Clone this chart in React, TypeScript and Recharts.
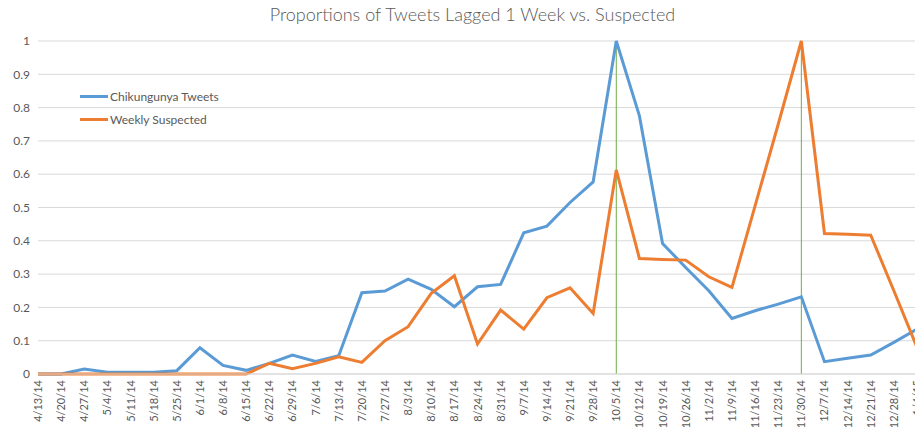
import {
  LineChart,
  Line,
  XAxis,
  YAxis,
  CartesianGrid,
  ReferenceLine,
} from 'recharts';

const categories = [
  '4/13/14', '4/20/14', '4/27/14', '5/4/14', '5/11/14', '5/18/14', '5/25/14',
  '6/1/14', '6/8/14', '6/15/14', '6/22/14', '6/29/14', '7/6/14', '7/13/14',
  '7/20/14', '7/27/14', '8/3/14', '8/10/14', '8/17/14', '8/24/14', '8/31/14',
  '9/7/14', '9/14/14', '9/21/14', '9/28/14', '10/5/14', '10/12/14', '10/19/14',
  '10/26/14', '11/2/14', '11/9/14', '11/16/14', '11/23/14', '11/30/14',
  '12/7/14', '12/14/14', '12/21/14', '12/28/14', '1/4/15',
];

const tweets = [
  0, 0, 0.015, 0.005, 0.005, 0.005, 0.01, 0.079, 0.026, 0.011, 0.032, 0.057,
  0.038, 0.055, 0.244, 0.249, 0.285, 0.254, 0.202, 0.262, 0.269, 0.424, 0.444,
  0.515, 0.577, 1.0, 0.775, 0.392, 0.32, 0.25, 0.167, 0.19, 0.21, 0.232, 0.037,
  0.047, 0.057, 0.095, 0.135,
];

const suspected = [
  0, 0, 0, 0, 0, 0, 0, 0, 0, 0, 0.032, 0.016, 0.032, 0.052, 0.035, 0.1, 0.142,
  0.242, 0.295, 0.09, 0.192, 0.135, 0.229, 0.259, 0.182, 0.613, 0.347, 0.344,
  0.342, 0.292, 0.26, 0.505, 0.75, 1.0, 0.422, 0.42, 0.417, 0.25, 0.08,
];

const yTicks = [0, 0.1, 0.2, 0.3, 0.4, 0.5, 0.6, 0.7, 0.8, 0.9, 1];
const peakWeeks = ['10/5/14', '11/30/14'];

const BLUE = '#5B9BD5';
const ORANGE = '#ED7D31';
const TEXT = '#595959';
const FONT = 'Lato, "Open Sans", sans-serif';

const data = categories.map((week, i) => ({
  week,
  tweets: tweets[i],
  suspected: suspected[i],
}));

const legendItems = [
  { label: 'Chikungunya Tweets', color: BLUE },
  { label: 'Weekly Suspected', color: ORANGE },
];

function XTick({ x, y, payload }: any) {
  return (
    <text
      x={x}
      y={y}
      transform={`rotate(-90, ${x}, ${y})`}
      textAnchor="end"
      dy={4}
      dx={2}
      fill={TEXT}
      fontSize={11}
      fontFamily={FONT}
    >
      {payload.value}
    </text>
  );
}

export default function App() {
  return (
    <div
      style={{
        position: 'absolute',
        left: 0,
        top: 0,
        width: 915,
        height: 427,
        overflow: 'hidden',
        background: '#fff',
      }}
    >
      <div
        style={{
          position: 'absolute',
          left: 0,
          top: 3,
          width: 945,
          textAlign: 'center',
          fontFamily: FONT,
          fontSize: 18,
          color: TEXT,
          fontWeight: 300,
        }}
      >
        Proportions of Tweets Lagged 1 Week vs. Suspected
      </div>
      <LineChart
        width={925}
        height={427}
        data={data}
        margin={{ top: 41, right: 8, bottom: 0, left: 8 }}
      >
        <CartesianGrid vertical={false} stroke="#d9d9d9" />
        <XAxis
          dataKey="week"
          interval={0}
          height={53}
          tickLine={false}
          axisLine={{ stroke: '#d9d9d9' }}
          tick={<XTick />}
        />
        <YAxis
          width={30}
          domain={[0, 1]}
          ticks={yTicks}
          axisLine={false}
          tickLine={false}
          tick={{ fill: TEXT, fontSize: 12, fontFamily: FONT }}
        />
        {peakWeeks.map((w) => (
          <ReferenceLine key={w} x={w} stroke="#70AD47" strokeWidth={1} />
        ))}
        <Line
          dataKey="tweets"
          name="Chikungunya Tweets"
          stroke={BLUE}
          strokeWidth={3}
          dot={false}
          isAnimationActive={false}
        />
        <Line
          dataKey="suspected"
          name="Weekly Suspected"
          stroke={ORANGE}
          strokeWidth={3}
          dot={false}
          isAnimationActive={false}
        />
      </LineChart>
      <div
        style={{
          position: 'absolute',
          left: 80,
          top: 85,
          fontFamily: FONT,
          fontSize: 12,
          color: TEXT,
        }}
      >
        {legendItems.map((it) => (
          <div
            key={it.label}
            style={{ display: 'flex', alignItems: 'center', height: 23 }}
          >
            <div
              style={{
                width: 28,
                height: 3,
                background: it.color,
                marginRight: 2,
              }}
            />
            <span>{it.label}</span>
          </div>
        ))}
      </div>
    </div>
  );
}
